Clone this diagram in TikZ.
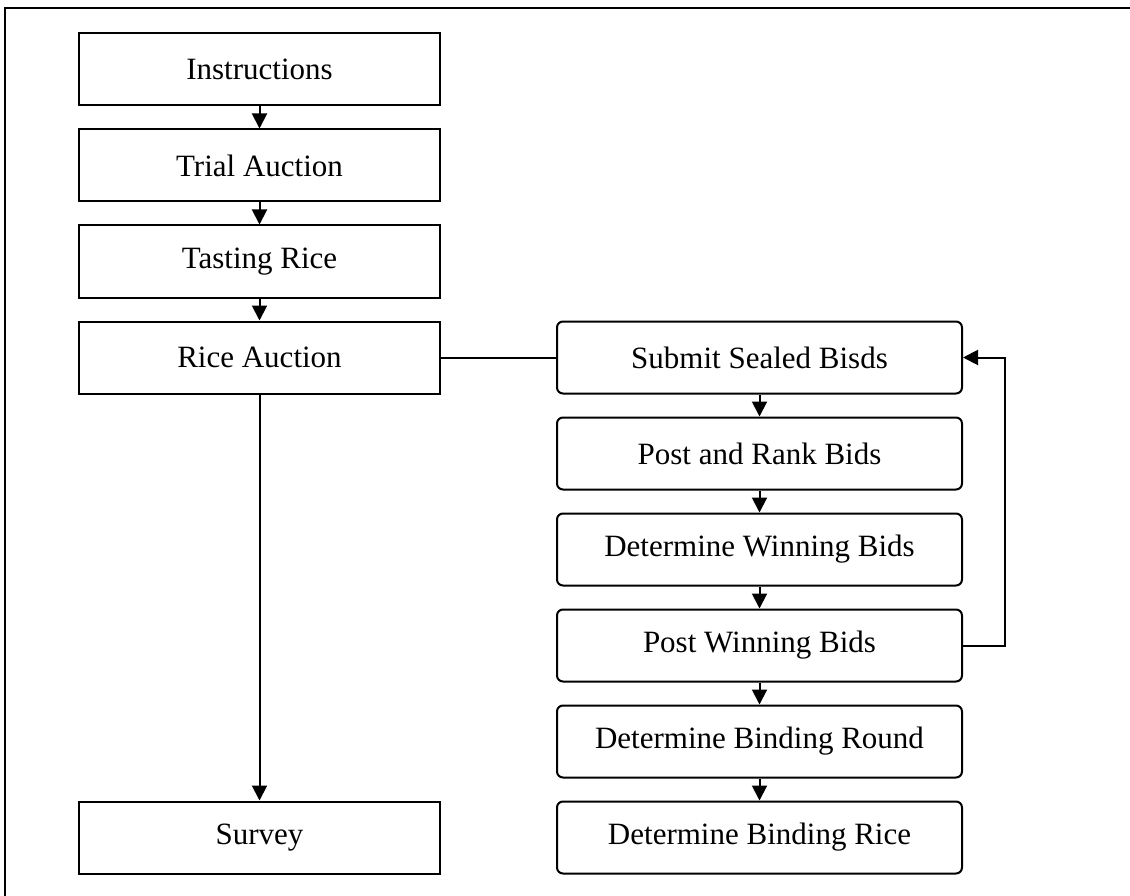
\documentclass[tikz,border=0pt]{standalone}
\usepackage{fontspec}
\setmainfont{Liberation Serif}
\usetikzlibrary{arrows.meta,positioning}

\begin{document}
\begin{tikzpicture}
    [
      x=1pt, y=-1pt,
      node distance = 22pt,
      stage/.style = {draw, line width=2pt, minimum width=361pt, minimum height=72pt,
                      inner sep=0pt, font=\fontsize{31}{36}\selectfont},
      round/.style = {stage, rounded corners=6pt, minimum width=405pt},
      flow/.style  = {-{Triangle[length=15pt,width=15pt]}, line width=2pt},
    ]
    \useasboundingbox (0,0) rectangle (1130,896);
    \draw[line width=2pt] (1130,8) -- (5,8) -- (5,896);

    % left column
    \node[stage] (instr) at (259.5,69.5) {Instructions};
    \node[stage, below=of instr] (trial) {Trial Auction};
    \node[stage, below=of trial] (tasting) {Tasting Rice};
    \node[stage, below=of tasting] (rice) {Rice Auction};
    \node[stage] (survey) at (259.5,837.5) {Survey};

    % right column
    \node[round] (submit) at (759.5,357.5) {Submit Sealed Bisds};
    \node[round, below=of submit] (postrank) {Post and Rank Bids};
    \node[round, below=of postrank] (detwin) {Determine Winning Bids};
    \node[round, below=of detwin] (postwin) {Post Winning Bids};
    \node[round, below=of postwin] (bindround) {Determine Binding Round};
    \node[round, below=of bindround] (bindrice) {Determine Binding Rice};

    \draw[flow] (instr) -- (trial);
    \draw[flow] (trial) -- (tasting);
    \draw[flow] (tasting) -- (rice);
    \draw[flow] (rice) -- (survey);
    \draw[line width=2pt] (rice) -- (submit);

    \draw[flow] (submit) -- (postrank);
    \draw[flow] (postrank) -- (detwin);
    \draw[flow] (detwin) -- (postwin);
    \draw[flow] (postwin) -- (bindround);
    \draw[flow] (bindround) -- (bindrice);
    \draw[flow] (postwin.east) -- ++(42,0) |- (submit.east);
\end{tikzpicture}
\end{document}
